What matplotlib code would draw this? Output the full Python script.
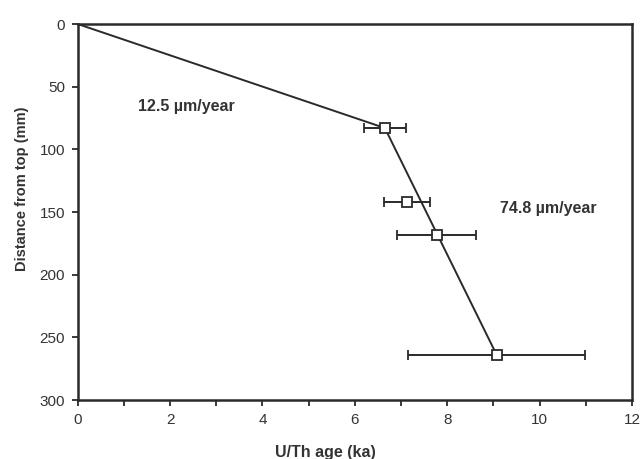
import matplotlib
matplotlib.use("Agg")
import matplotlib.pyplot as plt

plt.rcParams['font.family'] = ['Liberation Sans', 'DejaVu Sans']

# Data
age = [6.65, 7.13, 7.77, 9.07]           # U/Th age (ka)
age_err = [0.46, 0.50, 0.85, 1.91]       # +/- ka
depth = [83, 142, 168, 264]              # distance from top (mm)

# growth model line
line_age = [0, 6.65, 9.07]
line_depth = [0, 83, 264]

rate_labels = ["12.5 µm/year", "74.8 µm/year"]
rate_pos_x = [1.3, 9.15]
rate_pos_y = [66, 147]

xticks = list(range(0, 13, 2))
yticks = list(range(0, 301, 50))

dark = '#2a2a2a'

fig = plt.figure(figsize=(6.41, 4.59), dpi=100)
ax = fig.add_axes([0.1212, 0.1285, 0.8648, 0.8192])

ax.plot(line_age, line_depth, color=dark, lw=1.4, zorder=2)
ax.errorbar(age, depth, xerr=age_err, fmt='s', color=dark, mfc='white',
            mec=dark, mew=1.3, ms=7.5, ecolor=dark, elinewidth=1.4,
            capsize=3.5, capthick=1.4, zorder=3)

for t, x, y in zip(rate_labels, rate_pos_x, rate_pos_y):
    ax.text(x, y, t, fontsize=11.5, fontweight='bold', color='#333333',
            ha='left', va='center')

ax.set_xlim(0, 12)
ax.set_ylim(300, 0)
ax.set_xticks(xticks)
ax.set_xticks(range(0, 13), minor=True)
ax.set_yticks(yticks)
ax.tick_params(axis='both', which='both', direction='out', length=4,
               width=1.3, color=dark, labelsize=11, labelcolor='#333333',
               pad=5)
for s in ax.spines.values():
    s.set_linewidth(1.8)
    s.set_color(dark)

ax.set_xlabel("U/Th age (ka)", fontsize=11.5, fontweight='bold',
              color='#333333', va='center')
ax.xaxis.set_label_coords(0.4476, -0.140)
ax.set_ylabel("Distance from top (mm)", fontsize=10.5, fontweight='bold',
              color='#333333', va='center')
ax.yaxis.set_label_coords(-0.1005, 0.561)

fig.savefig("out.png", dpi=100)
